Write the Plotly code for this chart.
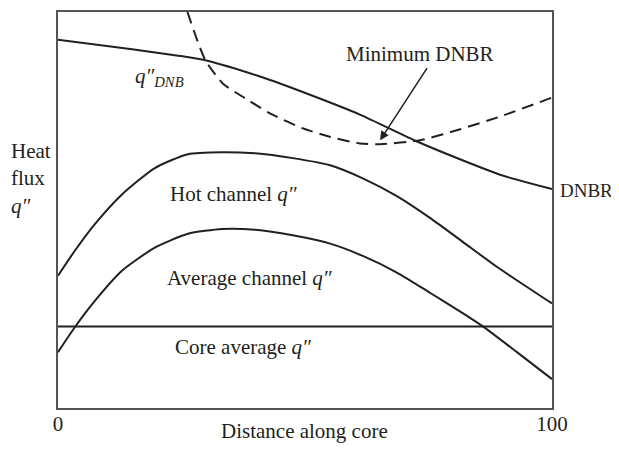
import plotly.graph_objects as go

# Data (x = distance along core 0..100, y = relative heat flux)
dnb_x = [0, 15, 24.7, 30.2, 40.9, 51, 61.1, 72.7, 82, 90, 100]
dnb_y = [93, 90.6, 88.9, 87.7, 83.7, 79.1, 74.1, 67.3, 62.5, 58.7, 55.3]

dnbr_x = [26.2, 29.8, 33.4, 38.3, 42.9, 49.6, 55, 61.1, 65.2, 73.3, 81.4, 89.5, 100]
dnbr_y = [100, 87.9, 81.9, 77.9, 74.4, 70.6, 68.5, 66.8, 66.6, 67.6, 70.4, 73.6, 78.4]

hot_x = [0, 3.4, 7.5, 13, 19.6, 26.3, 33.2, 39.9, 47.5, 55.1, 61.7, 68.6, 75.3, 82, 88.9, 100]
hot_y = [33.4, 39.7, 46.5, 54, 60.6, 64.1, 64.6, 64.3, 63.1, 61.3, 58, 53.5, 48, 41.9, 35.6, 26.4]

avg_x = [0, 3.4, 7.5, 13, 19.6, 26.3, 33.2, 39.9, 47.5, 55.1, 61.7, 68.6, 75.3, 82, 86, 92.9, 100]
avg_y = [14.1, 20.4, 27.1, 34.7, 40.5, 44, 45.2, 45, 43.6, 41.5, 38.4, 34.2, 29.1, 23.9, 20.6, 14.1, 7.3]

core_x = [0, 100]
core_y = [20.6, 20.6]

x_ticks = [0, 100]
x_tick_labels = ["0", "100"]

FONT = "Liberation Serif"
FS = 21
TXT = "#231f20"
LINE = "#231f20"

fig = go.Figure()
line_style = dict(color=LINE, width=2, shape="spline", smoothing=0.6)
fig.add_trace(go.Scatter(x=dnb_x, y=dnb_y, mode="lines", line=line_style, hoverinfo="skip"))
fig.add_trace(go.Scatter(x=dnbr_x, y=dnbr_y, mode="lines",
                         line=dict(color=LINE, width=2, dash="12px,7px", shape="spline", smoothing=0.6),
                         hoverinfo="skip"))
fig.add_trace(go.Scatter(x=hot_x, y=hot_y, mode="lines", line=line_style, hoverinfo="skip"))
fig.add_trace(go.Scatter(x=avg_x, y=avg_y, mode="lines", line=line_style, hoverinfo="skip"))
fig.add_trace(go.Scatter(x=core_x, y=core_y, mode="lines", line=dict(color=LINE, width=2), hoverinfo="skip"))

ann_font = dict(family=FONT, size=FS, color=TXT)
annotations = [
    dict(x=20.6, y=83.7, text="<i>q″<sub>DNB</sub></i>", showarrow=False, font=ann_font),
    dict(x=73.3, y=89.4, text="Minimum DNBR", showarrow=False, font=ann_font),
    dict(x=65.2, y=67.6, ax=74.9, ay=86.2, axref="x", ayref="y", text="", showarrow=True,
         arrowhead=2, arrowsize=1.2, arrowwidth=1.5, arrowcolor=LINE),
    dict(x=35.6, y=54, text="Hot channel <i>q″</i>", showarrow=False, font=ann_font),
    dict(x=38.7, y=32.9, text="Average channel <i>q″</i>", showarrow=False, font=ann_font),
    dict(x=37.4, y=15.3, text="Core average <i>q″</i>", showarrow=False, font=ann_font),
    dict(xref="paper", yref="paper", x=1.012, y=0.548, text="DNBR", showarrow=False,
         font=dict(family=FONT, size=19, color=TXT), xanchor="left"),
    dict(xref="paper", yref="paper", x=-0.099, y=0.58, text="Heat<br>flux<br><i>q″</i>",
         showarrow=False, font=ann_font, xanchor="left", align="left"),
    dict(xref="paper", yref="paper", x=0.498, y=-0.093, text="Distance along core",
         showarrow=False, font=ann_font),
]

# the page has an 8px body margin, so the figure is sized/margined to land the plot
# area at x 58..552, y 10..408 of the 619x458 window
fig.update_layout(
    width=611, height=450,
    margin=dict(l=50, r=67, t=2, b=50),
    paper_bgcolor="white", plot_bgcolor="white",
    showlegend=False,
    annotations=annotations,
    font=dict(family=FONT, size=FS, color=TXT),
)
fig.update_xaxes(range=[0, 100], showgrid=False, zeroline=False, showline=True, mirror=True,
                 linecolor="#555555", linewidth=2, tickvals=x_ticks, ticktext=x_tick_labels,
                 ticks="", ticklabelstandoff=-4, tickfont=dict(family=FONT, size=FS, color=TXT))
fig.update_yaxes(range=[0, 100], showgrid=False, zeroline=False, showline=True, mirror=True,
                 linecolor="#555555", linewidth=2, showticklabels=False, ticks="")

fig.write_html("out.html")
